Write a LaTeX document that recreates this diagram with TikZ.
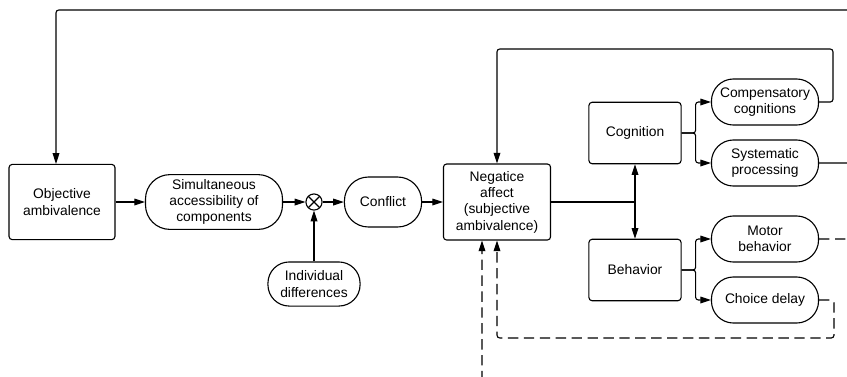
\documentclass[tikz,border=0pt]{standalone}
\usepackage{fontspec}
\setmainfont{Liberation Sans}
\usetikzlibrary{calc}
\usetikzlibrary{arrows.meta}

\tikzset{
  box/.style={draw, rounded corners=0.8mm, align=center, minimum width=23.4mm, minimum height=15.6mm},
  pill/.style={draw, rounded corners=5.6mm, align=center, minimum width=27.2mm, minimum height=11.7mm},
  mult/.style={draw, circle, minimum size=4.1mm, inner sep=0pt,
    path picture={\draw (path picture bounding box.north west) -- (path picture bounding box.south east)
                        (path picture bounding box.south west) -- (path picture bounding box.north east);}},
  link/.style={rounded corners=2pt, -{Triangle[length=2.7mm,width=1.7mm]}},
  back/.style={link, dash pattern=on 7.5pt off 4pt},
}

\begin{document}
\begin{tikzpicture}[x=0.254mm, y=-0.254mm, line width=0.8pt, font=\fontsize{10pt}{11.8pt}\selectfont]
    \useasboundingbox (0,0) rectangle (847,376);
    \clip (0,0) rectangle (847,376);
    % main row
    \node[box, minimum width=26.9mm, minimum height=19.1mm] (obj) at (62,202) {Objective\\ambivalence};
    \node[pill, minimum width=34.8mm, minimum height=13mm, rounded corners=6.2mm] (sim) at (214,202) {Simultaneous\\accessibility of\\components};
    \node[mult] (mul) at (314,202) {};
    \node[pill, minimum width=19.6mm, minimum height=12.7mm, rounded corners=6.1mm] (conf) at (383,202) {Conflict};
    \node[pill, minimum width=23.4mm, minimum height=11.2mm, rounded corners=5.4mm] (ind) at (314,284) {Individual\\differences};
    \node[box, minimum width=27.2mm, minimum height=19.3mm] (neg) at (497,202) {Negatice\\affect\\(subjective\\ambivalence)};
    % responses
    \node[box] (cog) at (635,133) {Cognition};
    \node[box] (beh) at (635,270) {Behavior};
    \node[pill] (comp) at (765,102) {Compensatory\\cognitions};
    \node[pill] (sys) at (765,163) {Systematic\\processing};
    \node[pill] (mot) at (765,239) {Motor\\behavior};
    \node[pill] (cho) at (765,300) {Choice delay};
    % turning points
    \coordinate (split) at (cog.south |- neg.east);
    \coordinate (cogfork) at ($(cog.east)+(14,0)$);
    \coordinate (behfork) at ($(beh.east)+(14,0)$);
    \coordinate (loopin) at (833,49);
    \coordinate (loopout) at (870,10);
    \coordinate (topl) at (56,10);
    \coordinate (loopdash) at (834,338);
    \coordinate (dashout) at (870,395);
    \coordinate (dashin) at (482,395);

    \draw[link] (obj) -- (sim);
    \draw[link] (sim) -- (mul);
    \draw[link] (ind) -- (mul);
    \draw[link] (mul) -- (conf);
    \draw[link] (conf) -- (neg);
    \draw (neg.east) -- (split);
    \draw[link] (split) -- (cog);
    \draw[link] (split) -- (beh);
    \draw[link] (cog.east) -- (cogfork) |- (comp.west);
    \draw[link] (cog.east) -- (cogfork) |- (sys.west);
    \draw[link] (beh.east) -- (behfork) |- (mot.west);
    \draw[link] (beh.east) -- (behfork) |- (cho.west);
    % feedback loops
    \draw[link] (comp.east) -| (loopin) -| (neg.north);
    \draw[link] (sys.east) -| (loopout) -- (topl) -- (topl |- obj.north);
    \draw[back] (cho.east) -| (loopdash) -| (neg.south);
    \draw[back] (mot.east) -| (dashout) -- (dashin) -- (dashin |- neg.south);
\end{tikzpicture}
\end{document}
